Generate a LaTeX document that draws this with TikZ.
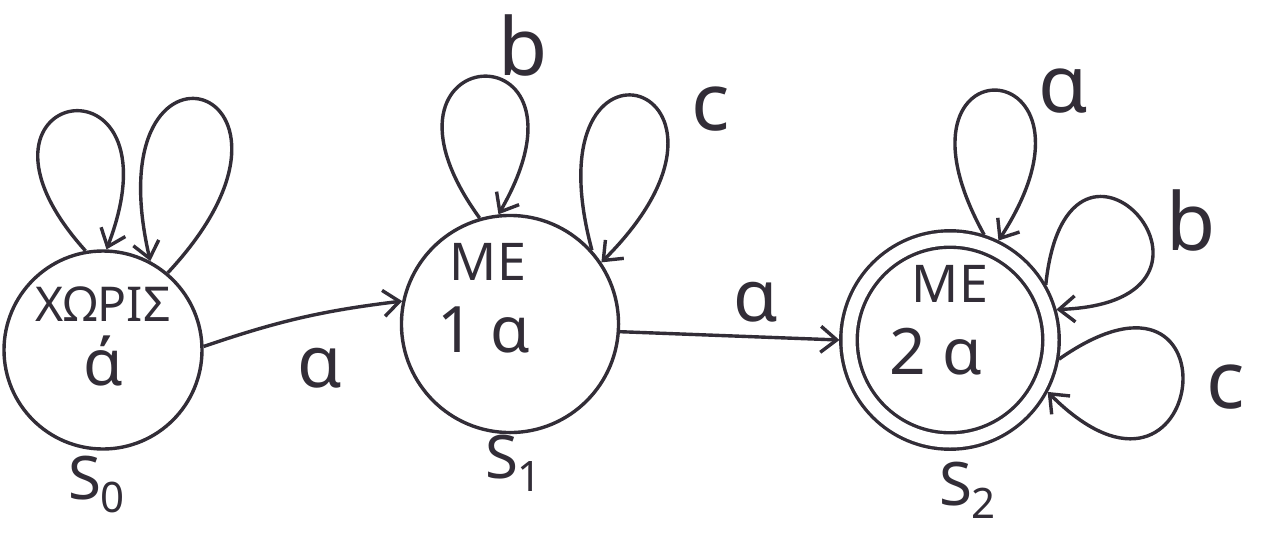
\documentclass[tikz,border=0pt]{standalone}
\usepackage{fontspec}
\setmainfont{Noto Sans}
\usepackage{xcolor}
\usetikzlibrary{arrows.meta}
\definecolor{ink}{RGB}{50,45,55}

\begin{document}
\begin{tikzpicture}[x=0.5pt, y=0.5pt, >={Straight Barb[length=8pt,width=13pt]},
  state/.style={draw=ink, circle, line width=1.7pt, inner sep=0pt, align=center, text=ink,
    font=\fontsize{32}{34}\selectfont},
  accepting/.style={double, double distance=6.5pt, outer sep=4.8pt},
  trans/.style={draw=ink, line width=1.7pt, ->},
  sym/.style={text=ink, font=\fontsize{36}{40}\selectfont},
  loopsym/.style={text=ink, font=\fontsize{40}{44}\selectfont},
  statename/.style={text=ink, font=\fontsize{30}{34}\selectfont}]
\fill[white] (0,0) rectangle (1269,554);
\useasboundingbox (0,0) rectangle (1269,554);
% --- states ---
\node[state, minimum size=99pt, text depth=14pt,
  label={[statename, xshift=-3pt, label distance=-1pt]below:S\textsubscript{0}}]
  (s0) at (103,204) {{\fontsize{24}{28}\selectfont ΧΩΡΙΣ}\\[-2pt]ά};
\node[state, minimum size=106pt, text depth=26pt,
  label={[statename, xshift=2pt, label distance=-3pt]below:S\textsubscript{1}}]
  (s1) at (510,230) {{\fontsize{26}{30}\selectfont ME}\kern22pt\\[2pt]1 α\kern26pt};
\node[state, accepting, minimum size=101pt, text depth=20pt,
  label={[statename, xshift=9pt, label distance=2pt]below:S\textsubscript{2}}]
  (s2) at (950,214) {{\fontsize{26}{30}\selectfont ME}\\[2pt]2 α\kern14pt};
% --- transitions between states ---
\draw[trans] (s0.2) to[bend left=6] node[sym, pos=0.6, below=13pt] {α} (s1.168);
\draw[trans] (s1.-4) -- node[sym, pos=0.62, above=3pt] {α} (s2.180);
% --- loops on S0 ---
\draw[trans] (s0.100) .. controls +(132:220) and +(69:220) .. (s0.88);
\draw[trans] (s0.50) .. controls +(47:260) and +(103:260) .. (s0.62);
% --- loops on S1 ---
\draw[trans] (s1.106) .. controls +(126:222) and +(60:222) .. node[loopsym, pos=0.5, above right, xshift=4pt, yshift=-4pt] {b} (s1.96);
\draw[trans] (s1.42) .. controls +(105:254) and +(45:254) .. node[loopsym, pos=0.5, right=22pt, yshift=-6pt] {c} (s1.34);
% --- loops on S2 ---
\draw[trans] (s2.72) .. controls +(119:229) and +(57:229) .. node[loopsym, pos=0.5, right=17pt] {α} (s2.64);
\draw[trans] (s2.30) .. controls +(84:210) and +(2:210) .. node[loopsym, pos=0.5, right=10pt, yshift=-2pt] {b} (s2.16);
\draw[trans] (s2.-10) .. controls +(35:225) and +(-45:225) .. node[loopsym, pos=0.5, right=8pt] {c} (s2.-28);
\end{tikzpicture}
\end{document}
